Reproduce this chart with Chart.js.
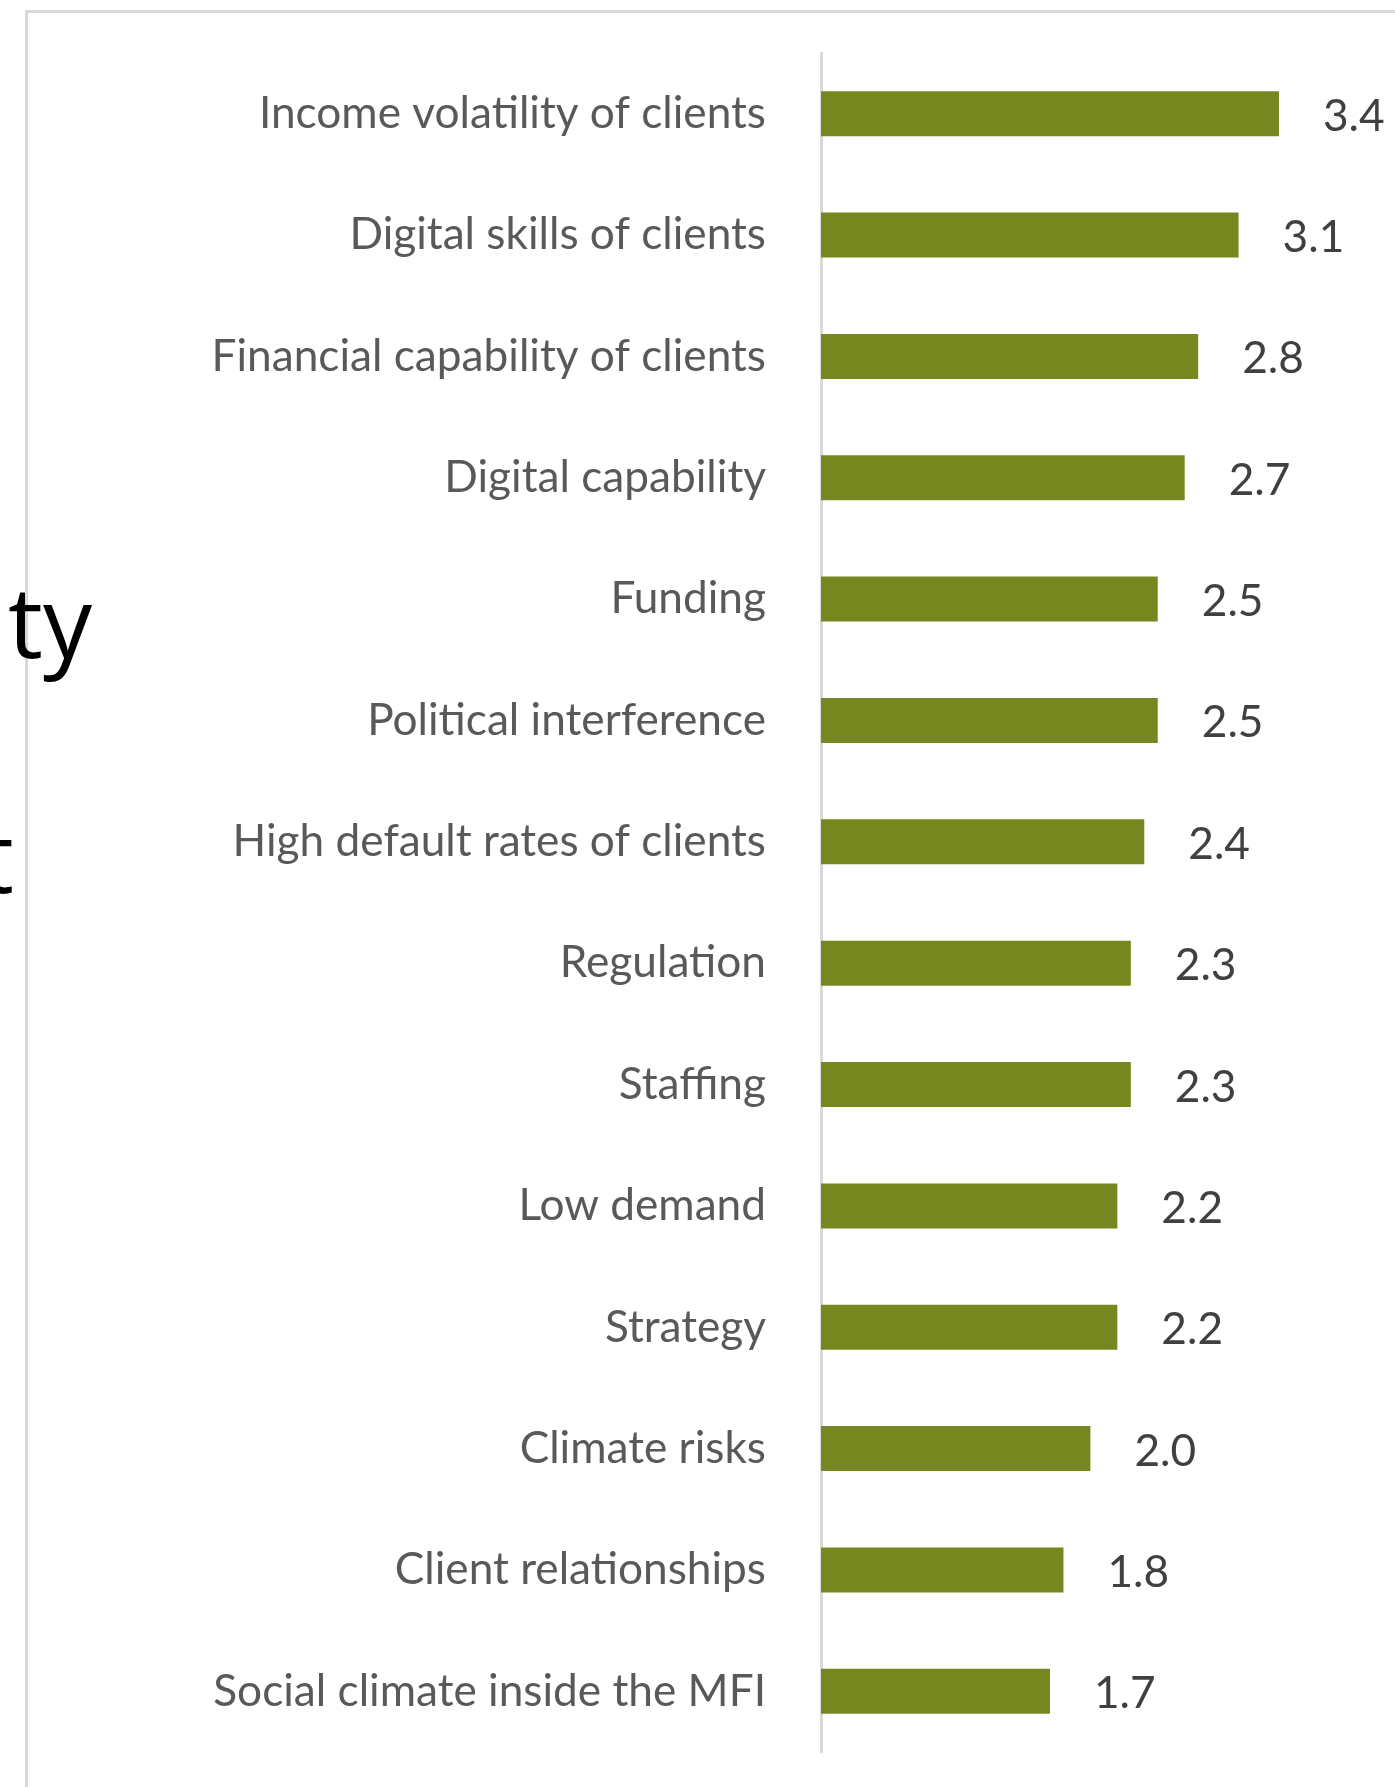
<!DOCTYPE html>
<html>
<head>
<meta charset="utf-8">
<title>Obstáculos</title>
<script src="https://cdn.jsdelivr.net/npm/chart.js@4.4.1/dist/chart.umd.min.js"></script>
<style>
  html, body { margin: 0; padding: 0; background: #ffffff; }
  #contenedor { position: relative; width: 1395px; height: 1787px; }
</style>
</head>
<body>
<div id="contenedor">
  <canvas id="graficoObstaculos" width="1395" height="1787"></canvas>
</div>
<script>
// Categorias (de arriba hacia abajo) y puntaje medio de cada una
const categorias = [
  "Income volatility of clients",
  "Digital skills of clients",
  "Financial capability of clients",
  "Digital capability",
  "Funding",
  "Political interference",
  "High default rates of clients",
  "Regulation",
  "Staffing",
  "Low demand",
  "Strategy",
  "Climate risks",
  "Client relationships",
  "Social climate inside the MFI"
];
const valores = [3.4, 3.1, 2.8, 2.7, 2.5, 2.5, 2.4, 2.3, 2.3, 2.2, 2.2, 2.0, 1.8, 1.7];
const ejeMinimo = 0;
const ejeMaximo = 4;

// Tamaño de letra: que la etiqueta mas larga ocupe unos 507px
function tamanoFuente(texto, anchoObjetivo, familia) {
  const ctx = document.createElement("canvas").getContext("2d");
  ctx.font = `100px ${familia}`;
  return Math.round((1000 * anchoObjetivo) / ctx.measureText(texto).width) / 10;
}
const familia = "Lato";
const fuente = tamanoFuente(categorias[0], 507, familia);

// Marco gris del cuadro y restos de texto de la diapositiva de atras
const fondo = {
  id: "fondo",
  beforeDraw(chart) {
    const ctx = chart.ctx;
    ctx.save();
    ctx.fillStyle = "#ffffff";
    ctx.fillRect(0, 0, chart.width, chart.height);
    ctx.fillStyle = "#d9d9d9";
    ctx.fillRect(25, 10, chart.width - 25, 3);
    ctx.fillRect(25, 10, 3, chart.height - 10);
    ctx.fillStyle = "#000000";
    ctx.font = '98px "Open Sans"';
    ctx.textAlign = "right";
    ctx.textBaseline = "alphabetic";
    ctx.fillText("ty", 92, 658);
    ctx.fillText("t", 14, 893);
    ctx.restore();
  }
};

// Valor al final de cada barra
const etiquetasValor = {
  id: "etiquetasValor",
  afterDatasetsDraw(chart) {
    const ctx = chart.ctx;
    const meta = chart.getDatasetMeta(0);
    ctx.save();
    ctx.font = `${fuente}px ${familia}`;
    ctx.fillStyle = "#404040";
    ctx.textAlign = "left";
    ctx.textBaseline = "alphabetic";
    meta.data.forEach((barra, i) => {
      ctx.fillText(valores[i].toFixed(1), barra.x + 44, barra.y + 17);
    });
    ctx.restore();
  }
};

const pxPorUnidad = 134.7;
const bordeEje = 821;

const datos = {
  labels: categorias,
  datasets: [
    {
      data: valores,
      backgroundColor: "#778720",
      borderWidth: 0,
      categoryPercentage: 1,
      barPercentage: 0.371
    }
  ]
};

const config = {
  type: "bar",
  data: datos,
  options: {
    indexAxis: "y",
    responsive: false,
    animation: false,
    layout: {
      padding: {
        top: 53,
        bottom: 35,
        left: 0,
        right: 1395 - bordeEje - pxPorUnidad * (ejeMaximo - ejeMinimo)
      }
    },
    scales: {
      x: {
        display: false,
        min: ejeMinimo,
        max: ejeMaximo
      },
      y: {
        grid: { display: false, drawTicks: false },
        border: { display: true, color: "#d9d9d9", width: 3 },
        ticks: {
          autoSkip: false,
          padding: 55,
          color: "#595959",
          font: { family: familia, size: fuente }
        },
        afterFit(scale) {
          // ancho fijo del eje y sin margen extra arriba/abajo
          scale.width = bordeEje;
          scale.paddingTop = 0;
          scale.paddingBottom = 0;
        }
      }
    },
    plugins: {
      legend: { display: false },
      tooltip: { enabled: false }
    }
  },
  plugins: [fondo, etiquetasValor]
};

const ctx = document.getElementById("graficoObstaculos").getContext("2d");
new Chart(ctx, config);
</script>
</body>
</html>
